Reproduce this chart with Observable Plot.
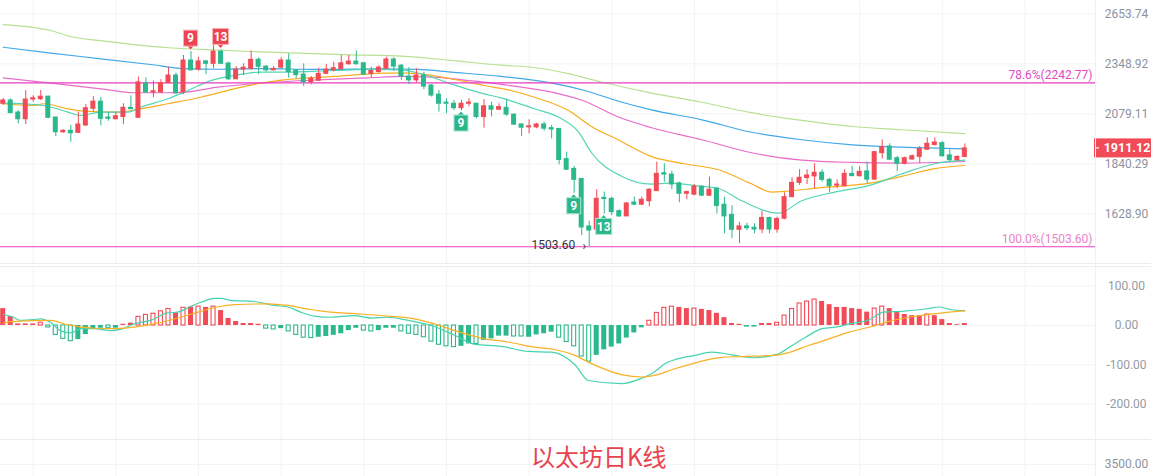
<!DOCTYPE html>
<html><head><meta charset="utf-8">
<script src="https://cdn.jsdelivr.net/npm/d3@7"></script>
<script src="https://cdn.jsdelivr.net/npm/@observablehq/plot@0.6"></script>
<style>
body{margin:0;background:#fff;}
#wrap{position:relative;width:1151px;height:476px;overflow:hidden;font-family:Roboto,"Noto Sans",sans-serif;background:#fff;}
.pane{position:absolute;left:0;}
.hsep{position:absolute;left:0;width:1151px;height:1px;background:#ececec;}
.vsep{position:absolute;top:0;left:1095px;width:1px;height:476px;background:#f0f0f0;}
#title{position:absolute;left:531px;top:443px;font-family:"Noto Sans CJK SC","Noto Sans",sans-serif;font-size:24px;line-height:26px;color:#e8434e;white-space:nowrap;}
</style></head>
<body>
<div id="wrap"></div>
<script>
// ---- candles (ETH daily) ----
const opens = [2131,2148,2086,2052,2153,2155,2168,2061,1988,1995,
1985,2021,2105,2142,2061,2052,2063,2110,2059,2240,
2190,2190,2241,2283,2190,2368,2316,2363,2349,2420,
2351,2262,2316,2321,2372,2333,2312,2327,2368,2312,
2288,2246,2254,2292,2312,2318,2347,2362,2352,2292,
2302,2321,2374,2338,2277,2256,2283,2228,2179,2137,
2131,2108,2131,2131,2063,2118,2100,2110,2075,2026,
2012,2012,2026,2008,2004,1862,1818,1774,1580,1568,
1694,1690,1640,1619,1675,1666,1680,1722,1799,1793,
1755,1711,1707,1741,1703,1732,1666,1625,1567,1580,
1575,1568,1613,1568,1610,1697,1757,1778,1785,1801,
1770,1745,1743,1796,1786,1807,1771,1889,1920,1866,
1841,1860,1872,1905,1927,1936,1879,1857,1872];
const highs = [2158,2157,2096,2201,2173,2201,2171,2061,2000,2021,
2088,2127,2168,2164,2086,2088,2131,2173,2275,2270,
2253,2260,2329,2296,2397,2420,2387,2369,2466,2430,
2358,2333,2349,2424,2384,2338,2333,2384,2407,2316,
2349,2277,2324,2345,2358,2397,2397,2424,2358,2329,
2338,2387,2384,2345,2326,2321,2301,2233,2201,2157,
2148,2148,2157,2134,2152,2139,2131,2148,2079,2029,
2049,2032,2037,2021,2004,1894,1828,1774,1600,1728,
1718,1697,1645,1675,1697,1697,1732,1848,1841,1808,
1760,1722,1750,1745,1782,1739,1697,1662,1596,1592,
1590,1640,1616,1616,1715,1779,1814,1814,1841,1814,
1777,1770,1814,1830,1828,1849,1896,1951,1933,1874,
1871,1881,1920,1961,1961,1943,1905,1877,1932];
const lows = [2122,2080,2029,2026,2139,2148,2055,1967,1983,1940,
1983,2016,2088,2019,2042,2049,2025,2100,2059,2188,
2163,2187,2237,2179,2179,2308,2308,2288,2321,2345,
2256,2262,2283,2312,2288,2303,2308,2321,2268,2265,
2222,2232,2249,2288,2302,2316,2340,2340,2283,2270,
2296,2317,2306,2256,2233,2241,2205,2166,2088,2080,
2096,2096,2115,2054,2008,2063,2096,2067,2021,1967,
1980,2005,1993,1956,1836,1811,1713,1545,1503.6,1568,
1629,1622,1616,1619,1662,1662,1658,1722,1760,1728,
1674,1686,1703,1700,1700,1629,1552,1533,1515,1564,
1552,1552,1552,1554,1606,1695,1746,1750,1732,1760,
1715,1732,1739,1785,1782,1753,1768,1863,1857,1807,
1836,1858,1841,1903,1922,1870,1849,1852,1868];
const closes = [2148,2083,2052,2153,2160,2168,2059,1988,1995,1983,
2026,2108,2142,2054,2054,2067,2110,2103,2245,2190,
2197,2241,2283,2186,2368,2312,2363,2349,2420,2349,
2262,2316,2327,2372,2332,2312,2320,2368,2302,2285,
2246,2265,2292,2316,2324,2352,2362,2347,2288,2308,
2327,2374,2333,2277,2256,2283,2222,2174,2131,2131,
2108,2131,2137,2063,2118,2100,2114,2075,2025,2010,
2017,2026,2005,2001,1858,1814,1770,1576,1564,1690,
1689,1636,1619,1671,1666,1686,1728,1796,1793,1750,
1711,1718,1741,1703,1728,1661,1619,1567,1580,1573,
1568,1613,1568,1609,1697,1757,1779,1789,1801,1770,
1743,1750,1796,1786,1805,1771,1894,1917,1859,1841,
1866,1875,1909,1933,1939,1875,1857,1872,1911.12];

// ---- moving averages: [candle index, price] ----
const maGreen = [[0,2585],[6.3,2548],[9.4,2506],[12.6,2487],[21.9,2443],[26.3,2433],[34.3,2418],[46.3,2401],[53,2393],[59.6,2369],[66.3,2341],[70.7,2328],[75.2,2293],[79.6,2247],[86.3,2187],[93,2139],[99.6,2085],[106.3,2046],[113,2016],[119.6,2000],[128,1981]];
const maBlue = [[0,2446],[6.3,2411],[13,2378],[19.6,2345],[24.1,2322],[28.6,2318],[34.3,2322],[41.9,2317],[50.7,2321],[55.2,2317],[59.6,2302],[66.3,2278],[73,2241],[77.4,2201],[81.9,2144],[86.3,2099],[93,2049],[99.6,1988],[106.3,1952],[113,1928],[119.6,1917],[128,1909]];
const maPink = [[0,2270],[6.3,2241],[13,2210],[17.4,2189],[21.9,2189],[24.1,2192],[28.6,2219],[34.3,2241],[41.9,2259],[48.6,2270],[53,2278],[57.4,2274],[61.9,2255],[66.3,2234],[73,2192],[77.4,2144],[81.9,2063],[86.3,2010],[93,1952],[99.6,1891],[106.3,1857],[113,1847],[119.6,1844],[128,1851]];
const maOrange = [[0,2131],[4,2122],[5.4,2131],[8.6,2105],[10.7,2093],[15.2,2088],[18.3,2105],[21.9,2131],[26.3,2165],[30.7,2210],[34.3,2241],[37.4,2259],[44,2278],[50.7,2296],[53,2298],[56.6,2287],[59.6,2265],[64,2228],[67.6,2201],[70.7,2165],[75.2,2097],[78.3,2016],[81.9,1951],[86.3,1873],[90.7,1841],[95.2,1814],[99.6,1753],[102.3,1718],[104,1721],[108.6,1736],[115.2,1755],[119.6,1785],[124,1819],[128,1833]];
const maTeal = [[0,2134],[4,2127],[5.4,2122],[8.6,2088],[10.3,2071],[13,2088],[16.6,2088],[18.3,2113],[21.9,2157],[24.6,2201],[27.6,2255],[30.7,2283],[34.3,2302],[37.4,2302],[44,2311],[48.6,2317],[53,2315],[55.6,2293],[59.6,2237],[64,2183],[66.3,2162],[70.7,2105],[73.9,2063],[76.6,1988],[78.3,1891],[82.3,1786],[86.3,1752],[88.6,1756],[93,1742],[95.2,1733],[98.3,1682],[103.2,1632],[106.3,1682],[110.7,1718],[115.2,1745],[119.6,1796],[124,1841],[128,1857]];

// ---- MACD ----
const macdHist = [43,23,4,4,4,7,-5,-24,-34,-40,
-36,-23,-8,-7,-7,-7,3,6,22,27,
30,36,42,32,45,47,48,46,48,38,
18,10,5,5,3,-8,-10,-8,-15,-24,
-31,-32,-30,-28,-25,-21,-13,-7,-13,-15,
-13,-7,-7,-15,-21,-24,-30,-41,-49,-53,
-55,-53,-47,-47,-38,-34,-27,-27,-28,-28,
-30,-24,-21,-17,-31,-42,-53,-79,-92,-76,
-62,-55,-47,-32,-19,-6,12,32,45,48,
46,43,43,41,38,31,20,5,3,-4,
-4,5,5,7,25,42,56,61,66,61,
53,46,46,43,41,34,43,48,43,34,
28,25,25,28,25,15,5,2,5];
const histHollow = [0,0,0,0,0,1,1,1,1,1,
0,0,0,0,1,0,0,0,1,1,
1,1,1,0,1,0,1,0,1,0,
0,0,0,0,0,1,1,0,1,1,
1,1,0,0,0,0,0,0,1,1,
0,0,0,1,1,1,1,1,1,1,
1,0,0,1,0,0,0,0,1,1,
0,0,0,0,1,1,1,1,1,0,
0,0,0,0,0,0,1,1,1,1,
0,0,1,0,0,0,0,0,0,0,
0,0,0,1,1,1,1,1,1,0,
0,0,0,0,0,0,1,1,0,0,
0,0,0,1,0,0,0,0,0];
const dif = [[0,28],[1.4,21],[2.3,13],[4.1,15],[5,17],[6.3,8],[7.6,-13],[9,-19],[10.3,-8],[12.1,-8],[14.3,-13],[15.6,-10],[17.4,4],[19.6,13],[21.9,32],[23.2,34],[25,49],[26.3,59],[28.1,69],[29,69],[30.3,64],[33.4,61],[36.1,51],[37.9,47],[39.6,34],[41.4,24],[43.6,21],[46.8,25],[49,19],[51.2,21],[53.9,13],[57,0],[60.1,-25],[62.8,-48],[66.3,-53],[69.9,-66],[73,-68],[76.1,-100],[77.9,-140],[82.3,-148],[85,-134],[86.3,-123],[88.3,-95],[89.4,-87],[92.1,-76],[94.3,-68],[95.6,-70],[98.3,-79],[100.1,-82],[101.9,-78],[103.2,-72],[105,-51],[106.8,-30],[109,-8],[111.2,-3],[112.6,4],[115.2,14],[117.2,34],[119.6,36],[122.8,42],[124.5,47],[126.3,40],[128,38]];
const dea = [[0,6],[1,10],[6.3,13],[8.5,2],[12.1,-7],[14.3,-8],[17.4,-4],[20.1,4],[23.6,21],[26.3,36],[28.5,47],[30.8,53],[35.2,55],[37.9,51],[41,40],[42.3,37],[43.6,34],[46.8,30],[51.2,24],[54.7,17],[57.4,4],[60.1,-13],[63.6,-32],[67.2,-42],[70.7,-55],[73.4,-61],[76.1,-76],[78.3,-97],[82.3,-125],[85,-131],[86.7,-127],[89.4,-110],[92.5,-93],[95.6,-81],[98.3,-79],[102.7,-76],[104.7,-68],[107.2,-51],[109.9,-34],[112.6,-17],[116.1,0],[117.8,10],[120.5,21],[125,32],[128,37]];

// ---- axis / annotations ----
const priceTicks = [2653.74, 2348.92, 2079.11, 1840.29, 1628.90];
const macdTicks = [100, 0, -100, -200];
const volTicks = [3500];
const fibLevels = [{label:"78.6%(2242.77)", price:2242.77}, {label:"100.0%(1503.60)", price:1503.60}];
const lowMark = [{i:78, price:1503.60, label:"1503.60"}];
const lastPrice = 1911.12;
const tdLabels = [{i:25,text:"9",side:"top"},{i:29,text:"13",side:"top"},{i:61,text:"9",side:"bottom"},{i:76,text:"9",side:"bottom"},{i:80,text:"13",side:"bottom"}];
const titleText = "以太坊日K线";

// ---- build ----
const RED = "#f04b56", GREEN = "#2cb88d";
const W = 1151, MR = 56;
const xDomain = [-0.3594, 145.39];
const gridIdx = d3.range(4, 137, 11);
const GRID = "#f3f3f3", AXIS = "#8b93a1";
const candles = opens.map((o, i) => ({i, open:o, high:highs[i], low:lows[i], close:closes[i]}));
const upC = candles.filter(d => d.close >= d.open);
const dnC = candles.filter(d => d.close < d.open);
const pt = {x: d => d[0], y: d => d[1]};
const common = {width:W, marginLeft:0, marginRight:MR, marginTop:0, marginBottom:0,
  style:{background:"transparent", fontFamily:"Roboto, sans-serif", fontSize:"12px", overflow:"visible"}};

const main = Plot.plot({
  ...common, height:263,
  x:{domain:xDomain, axis:null},
  y:{type:"log", domain:[1443.4, 2741.2], axis:null},
  marks:[
    Plot.ruleX(gridIdx, {stroke:GRID}),
    Plot.ruleY(priceTicks, {stroke:GRID}),
    Plot.text(priceTicks, {y:d=>d, frameAnchor:"right", dx:31, textAnchor:"middle", text:d=>d.toFixed(2), fill:AXIS, fontSize:12}),
    Plot.line(maGreen, {...pt, stroke:"#b7e192", strokeWidth:1.2, curve:"monotone-x"}),
    Plot.line(maBlue, {...pt, stroke:"#41a8e8", strokeWidth:1.2, curve:"monotone-x"}),
    Plot.line(maPink, {...pt, stroke:"#ea6cc9", strokeWidth:1.2, curve:"monotone-x"}),
    Plot.line(maOrange, {...pt, stroke:"#f8ad1c", strokeWidth:1.2, curve:"monotone-x"}),
    Plot.line(maTeal, {...pt, stroke:"#52d6b5", strokeWidth:1.2, curve:"monotone-x"}),
    Plot.ruleY(fibLevels, {y:"price", stroke:"#e93cc6", strokeWidth:1.2}),
    Plot.text(fibLevels.slice(0,1), {y:"price", text:"label", frameAnchor:"right", textAnchor:"end", dx:-3, dy:-8, fill:"#e04ac2", fontSize:12}),
    Plot.text(fibLevels.slice(1), {y:"price", text:"label", frameAnchor:"right", textAnchor:"end", dx:-3, dy:-8, fill:"#e882c9", fontSize:12}),
    Plot.ruleX(upC, {x:"i", y1:"low", y2:"high", stroke:RED}),
    Plot.ruleX(dnC, {x:"i", y1:"low", y2:"high", stroke:GREEN}),
    Plot.rect(upC, {x1:"i", x2:"i", y1:"open", y2:"close", insetLeft:-2.5, insetRight:-2.5, insetTop:-0.5, insetBottom:-0.5, fill:RED}),
    Plot.rect(dnC, {x1:"i", x2:"i", y1:"open", y2:"close", insetLeft:-2.5, insetRight:-2.5, insetTop:-0.5, insetBottom:-0.5, fill:GREEN}),
    Plot.text(lowMark, {x:"i", y:"price", text:"label", textAnchor:"end", dx:-14, dy:-2, fill:"#333", fontSize:12}),
    Plot.text(lowMark, {x:"i", y:"price", text:()=>"›", textAnchor:"middle", dx:-5, dy:-1, fill:"#333", fontSize:12})
  ]
});

const hist = macdHist.map((v, i) => ({i, v, hollow: !!histHollow[i]}));
const hRect = {x1:"i", x2:"i", y1:()=>0, y2:"v"};
const macd = Plot.plot({
  ...common, height:174,
  x:{domain:xDomain, axis:null},
  y:{domain:[-292.6, 150.1], axis:null},
  marks:[
    Plot.ruleX(gridIdx, {stroke:GRID}),
    Plot.ruleY(macdTicks, {stroke:GRID}),
    Plot.text(macdTicks, {y:d=>d, frameAnchor:"right", dx:31, textAnchor:"middle", text:d=>d.toFixed(2), fill:"#959aa3", fontSize:12}),
    Plot.rect(hist.filter(d=>!d.hollow && d.v>=0), {...hRect, insetLeft:-2.5, insetRight:-2.5, fill:RED}),
    Plot.rect(hist.filter(d=>!d.hollow && d.v<0), {...hRect, insetLeft:-2.5, insetRight:-2.5, fill:GREEN}),
    Plot.rect(hist.filter(d=>d.hollow && d.v>=0), {...hRect, insetLeft:-2, insetRight:-2, fill:"#fff", stroke:RED, strokeWidth:1.1}),
    Plot.rect(hist.filter(d=>d.hollow && d.v<0), {...hRect, insetLeft:-2, insetRight:-2, fill:"#fff", stroke:GREEN, strokeWidth:1.1}),
    Plot.line(dif, {...pt, stroke:"#45d3b0", strokeWidth:1.2, curve:"monotone-x"}),
    Plot.line(dea, {...pt, stroke:"#f7b125", strokeWidth:1.2, curve:"monotone-x"})
  ]
});

const vol = Plot.plot({
  ...common, height:36,
  x:{domain:xDomain, axis:null},
  y:{domain:[3000, 4500], axis:null},
  marks:[
    Plot.ruleX(gridIdx, {stroke:GRID}),
    Plot.ruleY(volTicks, {stroke:GRID}),
    Plot.text(volTicks, {y:d=>d, frameAnchor:"right", dx:31, textAnchor:"middle", text:d=>d.toFixed(2), fill:AXIS, fontSize:12})
  ]
});

// ---- overlays drawn with the plot's own scales ----
const sx = main.scale("x"), sy = main.scale("y");
const svg = d3.select(main);
for (const t of tdLabels) {
  const c = candles[t.i];
  const cx = sx.apply(t.i);
  const w = t.text.length > 1 ? 16 : 14, h = 16;
  const col = t.side === "top" ? "#ea4550" : "#2bb58b";
  const g = svg.append("g");
  let by;
  if (t.side === "top") {
    const yb = sy.apply(c.high) - 5;
    by = yb - h;
    g.append("path").attr("d", `M${cx-3.5},${yb-0.5}L${cx+3.5},${yb-0.5}L${cx},${yb+3.5}Z`).attr("fill", col);
  } else {
    const yt = sy.apply(c.low) + 5;
    by = yt;
    g.append("path").attr("d", `M${cx-3.5},${yt+0.5}L${cx+3.5},${yt+0.5}L${cx},${yt-3.5}Z`).attr("fill", col);
  }
  g.append("rect").attr("x", cx - w/2).attr("y", by).attr("width", w).attr("height", h)
    .attr("fill", col).attr("stroke", t.side === "top" ? "#f7b3b7" : "#a9e6d3").attr("stroke-width", 1);
  g.append("text").attr("x", cx).attr("y", by + h/2).attr("dy", "0.36em").attr("text-anchor", "middle")
    .attr("fill", "#fff").attr("font-size", 12).attr("font-weight", 700).attr("font-family", "Roboto, sans-serif").text(t.text);
}
{
  const py = sy.apply(lastPrice);
  const g = svg.append("g");
  g.append("rect").attr("x", 1094).attr("y", py - 9.5).attr("width", 57).attr("height", 19).attr("fill", "#f04b56");
  g.append("line").attr("x1", 1095).attr("x2", 1099).attr("y1", py).attr("y2", py).attr("stroke", "#fff").attr("stroke-width", 1.2);
  g.append("text").attr("x", 1127).attr("y", py).attr("dy", "0.36em").attr("text-anchor", "middle")
    .attr("fill", "#fff").attr("font-size", 12.5).attr("font-weight", 700).attr("font-family", "Roboto, sans-serif").text(lastPrice.toFixed(2));
}

// ---- assemble ----
const wrap = document.getElementById("wrap");
function place(el, top) { el.classList.add("pane"); el.style.top = top + "px"; wrap.appendChild(el); }
place(main, 0);
place(macd, 266);
place(vol, 440);
for (const t of [263, 266, 439]) { const d = document.createElement("div"); d.className = "hsep"; d.style.top = t + "px"; wrap.appendChild(d); }
const vs = document.createElement("div"); vs.className = "vsep"; wrap.appendChild(vs);
const title = document.createElement("div"); title.id = "title"; title.textContent = titleText; wrap.appendChild(title);
</script>
</body></html>
